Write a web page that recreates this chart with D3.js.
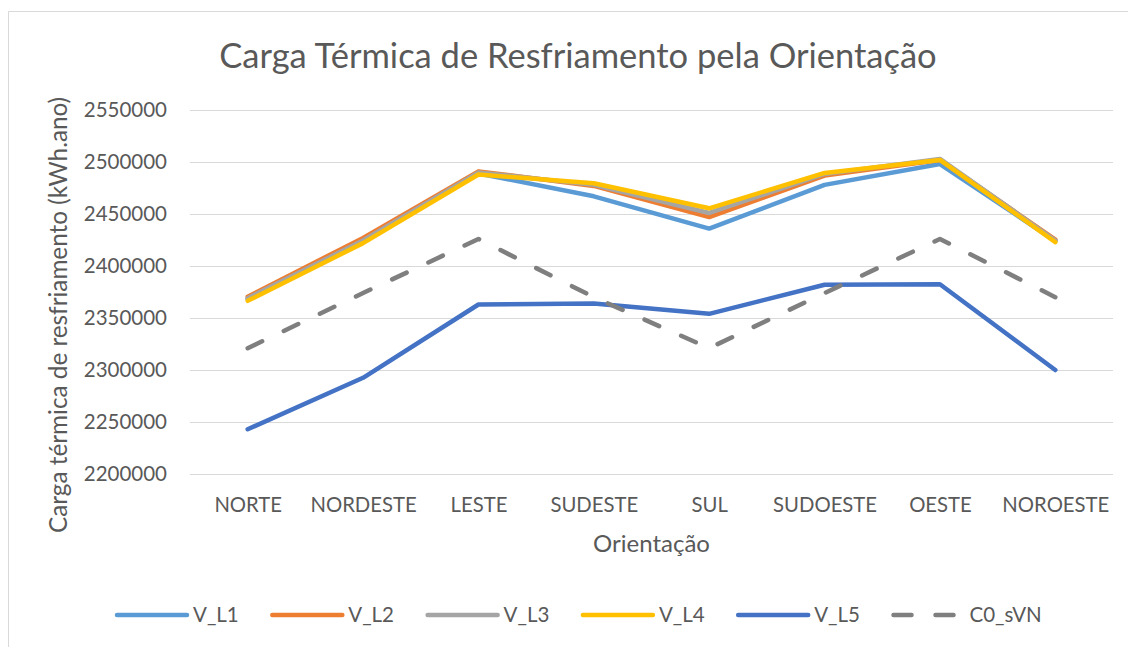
<!DOCTYPE html>
<html>
<head>
<meta charset="utf-8">
<script src="https://cdn.jsdelivr.net/npm/d3@7"></script>
<style>
  html, body { margin: 0; padding: 0; background: #fff; }
  svg text { font-family: Lato, "Open Sans", sans-serif; fill: #595959; }
</style>
</head>
<body>
<svg id="chart" width="1128" height="647"></svg>
<script>
// Orientation categories on the x axis
const categories = ["NORTE", "NORDESTE", "LESTE", "SUDESTE", "SUL", "SUDOESTE", "OESTE", "NOROESTE"];

// Annual cooling load (kWh.ano) per case
const V_L1 = [2368000, 2424000, 2489000, 2467000, 2436000, 2478000, 2498000, 2424000];
const V_L2 = [2370500, 2427000, 2491000, 2477000, 2447000, 2487000, 2502000, 2425500];
const V_L3 = [2369000, 2424500, 2490000, 2478000, 2451000, 2488500, 2503000, 2424500];
const V_L4 = [2366500, 2422000, 2488000, 2479500, 2455500, 2489500, 2502000, 2423000];
const V_L5 = [2243000, 2292500, 2363000, 2364000, 2354000, 2382000, 2382500, 2300000];
const C0_sVN = [2321000, 2374000, 2426000, 2370000, 2321000, 2374000, 2426000, 2370000];

const seriesNames = ["V_L1", "V_L2", "V_L3", "V_L4", "V_L5", "C0_sVN"];
const seriesValues = [V_L1, V_L2, V_L3, V_L4, V_L5, C0_sVN];
const seriesColors = ["#5B9BD5", "#ED7D31", "#A5A5A5", "#FFC000", "#4472C4", "#7F7F7F"];

const yTicks = [2200000, 2250000, 2300000, 2350000, 2400000, 2450000, 2500000, 2550000];

const svg = d3.select("#chart");

// Chart frame (left and top edges visible)
svg.append("path")
  .attr("d", "M8.5,647 L8.5,11.5 L1128,11.5")
  .attr("fill", "none").attr("stroke", "#D9D9D9").attr("stroke-width", 1);

const plot = { left: 190, right: 1113, top: 110, bottom: 474 };

const x = d3.scalePoint().domain(categories)
  .range([plot.left, plot.right]).padding(0.5);
const y = d3.scaleLinear().domain([2200000, 2550000])
  .range([plot.bottom, plot.top]);

// Horizontal gridlines
svg.append("g").selectAll("line").data(yTicks).join("line")
  .attr("x1", plot.left).attr("x2", plot.right)
  .attr("y1", d => Math.round(y(d)) + 0.5).attr("y2", d => Math.round(y(d)) + 0.5)
  .attr("stroke", "#D9D9D9").attr("stroke-width", 1);

// Y axis tick labels
const yAxis = d3.axisLeft(y).tickValues(yTicks).tickFormat(d3.format("d")).tickSize(0).tickPadding(23);
const yg = svg.append("g").attr("transform", `translate(${plot.left},0)`).call(yAxis);
yg.select(".domain").remove();
yg.selectAll("text").attr("font-size", 20.5).style("font-family", "Lato, sans-serif").attr("fill", "#595959");

// X axis category labels
const xAxis = d3.axisBottom(x).tickSize(0).tickPadding(23.5);
const xg = svg.append("g").attr("transform", `translate(0,${plot.bottom})`).call(xAxis);
xg.select(".domain").remove();
xg.selectAll("text").attr("font-size", 20.3).style("font-family", "Lato, sans-serif").attr("fill", "#595959");

// Series lines
const line = d3.line().x((d, i) => x(categories[i])).y(d => y(d));
seriesValues.forEach((vals, k) => {
  const p = svg.append("path").datum(vals)
    .attr("d", line)
    .attr("fill", "none")
    .attr("stroke", seriesColors[k])
    .attr("stroke-width", 4.5)
    .attr("stroke-linejoin", "round")
    .attr("stroke-linecap", "round");
  if (seriesNames[k] === "C0_sVN") p.attr("stroke-dasharray", "16 24");
});

// Title
svg.append("text")
  .attr("x", 578).attr("y", 68)
  .attr("text-anchor", "middle")
  .attr("font-size", 34.5)
  .text("Carga Térmica de Resfriamento pela Orientação");

// Axis titles
svg.append("text")
  .attr("x", (plot.left + plot.right) / 2).attr("y", 552)
  .attr("text-anchor", "middle").attr("font-size", 24)
  .text("Orientação");

svg.append("text")
  .attr("transform", "translate(67,315) rotate(-90)")
  .attr("text-anchor", "middle").attr("font-size", 24.3)
  .text("Carga térmica de resfriamento (kWh.ano)");

// Legend
const legend = svg.append("g").attr("transform", "translate(117,615)");
seriesNames.forEach((name, k) => {
  const g = legend.append("g").attr("transform", `translate(${k * 155.3},0)`);
  const sw = g.append("line").attr("x1", 0).attr("x2", 70).attr("y1", 0).attr("y2", 0)
    .attr("stroke", seriesColors[k]).attr("stroke-width", 4.5)
    .attr("stroke-linecap", "round");
  if (name === "C0_sVN") sw.attr("stroke-dasharray", "18 24");
  g.append("text").attr("x", 76).attr("y", 6.5).attr("font-size", 20.5).text(name);
});
</script>
</body>
</html>
